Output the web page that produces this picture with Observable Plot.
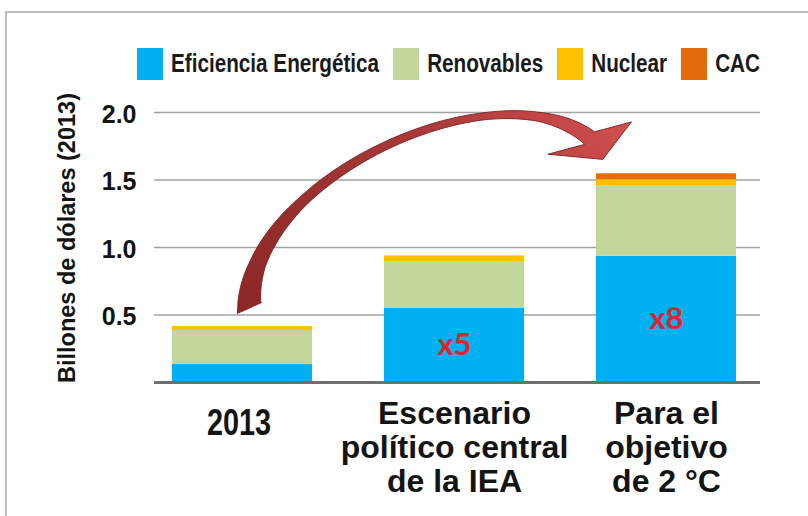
<!DOCTYPE html>
<html>
<head>
<meta charset="utf-8">
<script src="https://cdn.jsdelivr.net/npm/d3@7"></script>
<script src="https://cdn.jsdelivr.net/npm/@observablehq/plot@0.6"></script>
<style>
html, body { margin: 0; padding: 0; background: #fff; }
#page { position: relative; width: 808px; height: 516px; overflow: hidden; font-family: "Liberation Sans", Arial, sans-serif; }
#frame { position: absolute; left: 5px; top: 11px; width: 803px; height: 505px; border-top: 2px solid #bdbdbd; border-left: 2px solid #bdbdbd; box-sizing: border-box; pointer-events: none; }
#legend { position: relative; height: 90px; }
#legend .row { position: absolute; left: 137px; top: 48px; display: flex; gap: 14px; }
#legend .item { display: flex; align-items: center; height: 32px; }
#legend .sw { width: 26px; height: 32px; }
#legend .lab { margin-left: 8px; font-weight: bold; font-size: 20.7px; color: #1a1a1a; display: inline-block; transform: scaleY(1.2); }
#chart svg { display: block; background: transparent; overflow: visible; }
</style>
</head>
<body>
<div id="page">
  <div id="frame"></div>
  <div id="legend"><div class="row"></div></div>
  <div id="chart"></div>
</div>
<script>
// ---- data ----
const categories = ["2013", "Escenario político central de la IEA", "Para el objetivo de 2 °C"];
const categoryLabels = ["2013", "Escenario\npolítico central\nde la IEA", "Para el\nobjetivo\nde 2 °C"];
const series = ["Eficiencia Energética", "Renovables", "Nuclear", "CAC"];
const seriesColors = ["#00b0f0", "#c3d69b", "#ffc000", "#e46c0a"];
const eficiencia = [0.133, 0.548, 0.935];
const renovables = [0.252, 0.348, 0.524];
const nuclear = [0.030, 0.042, 0.043];
const cac = [0, 0, 0.044];
const multipliers = ["", "x5", "x8"];
const yTicks = [0.5, 1.0, 1.5, 2.0];
const yTitle = "Billones de dólares (2013)";

// arrow annotation anchors: [category-step units from first bar centre, value]
const arrowStart = [0.035, 0.548];
const arrowCtrl1 = [0.014, 1.496];
const arrowCtrl2 = [1.2, 2.36];
const arrowEnd = [1.64, 1.807];
const arrowWidthT = [0, 0.12, 0.3, 0.5, 0.72, 0.85, 0.93, 1];
const arrowWidthPx = [24, 16, 10, 8, 7, 9, 13, 16];

// ---- legend ----
const row = document.querySelector("#legend .row");
series.forEach((s, i) => {
  const it = document.createElement("div");
  it.className = "item";
  const sw = document.createElement("div");
  sw.className = "sw";
  sw.style.background = seriesColors[i];
  const lab = document.createElement("span");
  lab.className = "lab";
  lab.textContent = s;
  it.appendChild(sw); it.appendChild(lab);
  row.appendChild(it);
});

// ---- tables ----
const valueSets = [eficiencia, renovables, nuclear, cac];
const rows = [];
categories.forEach((c, i) => series.forEach((s, j) => rows.push({cat: c, series: s, value: valueSets[j][i]})));
const multRows = categories.map((c, i) => ({cat: c, y: eficiencia[i] / 2, text: multipliers[i]})).filter(d => d.text);
const otherLabels = categories.slice(1).map((c, i) => ({cat: c, text: categoryLabels[i + 1]}));

function bandCenter(x, c) {
  const bw = typeof x.bandwidth === "function" ? x.bandwidth() : (x.bandwidth || 0);
  return x(c) + bw / 2;
}

function interp(t) {
  for (let k = 1; k < arrowWidthT.length; k++) {
    if (t <= arrowWidthT[k]) {
      const a = arrowWidthT[k - 1], b = arrowWidthT[k];
      return arrowWidthPx[k - 1] + (arrowWidthPx[k] - arrowWidthPx[k - 1]) * (t - a) / (b - a);
    }
  }
  return arrowWidthPx[arrowWidthPx.length - 1];
}

// narrow, tall "2013" label under the first bar
function firstLabelMark(index, scales) {
  const cx = bandCenter(scales.x, categories[0]);
  const base = scales.y(0) + 53;
  const g = d3.create("svg:g");
  g.append("text")
    .attr("transform", `translate(${cx - 3},${base}) scale(0.78,1)`)
    .attr("text-anchor", "middle")
    .attr("font-family", "'Liberation Sans', Arial, sans-serif")
    .attr("font-weight", "bold")
    .attr("font-size", 37)
    .attr("fill", "#141414")
    .text(categoryLabels[0]);
  return g.node();
}

function arrowMark(index, scales) {
  const x = scales.x, y = scales.y;
  const c0 = bandCenter(x, categories[0]), c1 = bandCenter(x, categories[1]);
  const P = ([i, v]) => [c0 + i * (c1 - c0), y(v)];
  const S = P(arrowStart), C1 = P(arrowCtrl1), C2 = P(arrowCtrl2), E = P(arrowEnd);
  const bez = t => { const u = 1 - t; return [0, 1].map(k => u*u*u*S[k] + 3*u*u*t*C1[k] + 3*u*t*t*C2[k] + t*t*t*E[k]); };
  const der = t => { const u = 1 - t; return [0, 1].map(k => 3*u*u*(C1[k]-S[k]) + 6*u*t*(C2[k]-C1[k]) + 3*t*t*(E[k]-C2[k])); };
  const n = 60, outer = [], inner = [];
  for (let s = 0; s <= n; s++) {
    const t = s / n, p = bez(t), d = der(t);
    const L = Math.hypot(d[0], d[1]), tx = d[0] / L, ty = d[1] / L;
    const nx = ty, ny = -tx, w = interp(t) / 2;
    const o = [p[0] + nx * w, p[1] + ny * w], q = [p[0] - nx * w, p[1] - ny * w];
    if (s === 0) { o[1] += 5; q[1] -= 5; }
    outer.push(o); inner.push(q);
  }
  const d1 = der(1), L1 = Math.hypot(d1[0], d1[1]);
  const T = [d1[0] / L1, d1[1] / L1], N = [T[1], -T[0]];
  const B = [0.5 * T[0] + 0.86 * N[0], 0.5 * T[1] + 0.86 * N[1]];
  const H = [0.94 * T[0] - 0.34 * N[0], 0.94 * T[1] - 0.34 * N[1]];
  const barb1 = [E[0] + 45 * B[0], E[1] + 45 * B[1]];
  const barb2 = [E[0] - 45 * B[0], E[1] - 45 * B[1]];
  const tip = [E[0] + 25 * H[0], E[1] + 25 * H[1]];
  const pts = [...outer, barb1, tip, barb2, ...inner.reverse()];
  const g = d3.create("svg:g");
  const grad = g.append("defs").append("linearGradient")
    .attr("id", "arrowGrad").attr("gradientUnits", "userSpaceOnUse")
    .attr("x1", S[0]).attr("y1", S[1]).attr("x2", barb1[0]).attr("y2", barb1[1]);
  grad.append("stop").attr("offset", 0).attr("stop-color", "#8e2828");
  grad.append("stop").attr("offset", 0.55).attr("stop-color", "#aa3a3a");
  grad.append("stop").attr("offset", 1).attr("stop-color", "#d24f4f");
  g.append("path")
    .attr("d", "M" + pts.map(p => p[0].toFixed(2) + "," + p[1].toFixed(2)).join("L") + "Z")
    .attr("fill", "url(#arrowGrad)")
    .attr("stroke", "#7a2020").attr("stroke-width", 0.9).attr("stroke-linejoin", "round");
  return g.node();
}

const chart = Plot.plot({
  width: 808,
  height: 426,
  marginTop: 22,
  marginBottom: 134,
  marginLeft: 154,
  marginRight: 48,
  style: {fontFamily: "'Liberation Sans', Arial, sans-serif", color: "#141414", background: "transparent", overflow: "visible"},
  x: {domain: categories, range: [154, 754.5], paddingInner: 0.3404, paddingOuter: 0.0848, axis: null},
  y: {domain: [0, 2]},
  color: {domain: series, range: seriesColors},
  marks: [
    Plot.ruleY(yTicks, {stroke: "#a3a3a3", strokeWidth: 1.6}),
    Plot.barY(rows, {x: "cat", y: "value", fill: "series", order: series}),
    Plot.ruleY([0], {stroke: "#6f6f6f", strokeWidth: 3}),
    Plot.axisY({ticks: yTicks, tickFormat: d => d.toFixed(1), tickSize: 0, tickPadding: 18, fontSize: 25, fontWeight: "bold", dy: 2, label: null}),
    Plot.text([yTitle], {frameAnchor: "left", textAnchor: "middle", rotate: -90, dx: -87, dy: -9.5, fontSize: 23.5, fontWeight: "bold"}),
    arrowMark,
    Plot.text(multRows, {x: "cat", y: "y", text: "text", fontFamily: "Lato, 'Open Sans', sans-serif", fontWeight: "bold", fontSize: 31, fill: "#e1242b"}),
    firstLabelMark,
    Plot.text(otherLabels, {x: "cat", frameAnchor: "bottom", text: "text", lineAnchor: "top", lineHeight: 1.05, dy: 18, fontSize: 32, fontWeight: "bold"})
  ]
});
document.getElementById("chart").appendChild(chart);
</script>
</body>
</html>
